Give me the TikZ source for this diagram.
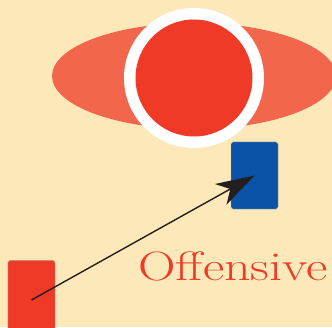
\documentclass[tikz,border=0pt]{standalone}
\usetikzlibrary{arrows.meta}
\definecolor{sand}{HTML}{FDE8BA}
\definecolor{halo}{HTML}{F2674C}
\definecolor{ballred}{HTML}{EE3A26}
\definecolor{teamblue}{HTML}{0A53A6}
\definecolor{ink}{HTML}{231F20}
\begin{document}
\begin{tikzpicture}[x=0.03cm, y=0.03cm,
  player/.style={draw=gray!70, line width=0.4pt, rounded corners=1.5pt,
    minimum width=1.41cm, minimum height=2.01cm, inner sep=0pt}]
\useasboundingbox (0,0) rectangle (332,327);
\clip (0,0) rectangle (332,327);
\fill[sand] (0,0) rectangle (332,327);
\fill[halo] (194,251) ellipse [x radius=142, y radius=53];
\node[circle, fill=white, minimum size=4.2cm, inner sep=0pt] (ring) at (194,249) {};
\node[circle, fill=ballred, minimum size=3.51cm, inner sep=0pt] (ball) at (194,249) {};
\node[player, fill=teamblue] (defender) at (254.5,151.5) {};
\node[player, fill=ballred, minimum height=2.37cm] (attacker) at (31.5,27) {};
\node[anchor=base west, inner sep=0pt, text=ballred, font=\fontsize{35}{35}\selectfont]
  (label) at (138,47) {\scalebox{1.27}[1]{Offensive}};
\draw[ink, line width=1.2pt, -{Stealth[length=1.16cm, width=0.71cm, inset=0.33cm]}]
  (attacker.center) -- (defender.center);
\end{tikzpicture}
\end{document}
